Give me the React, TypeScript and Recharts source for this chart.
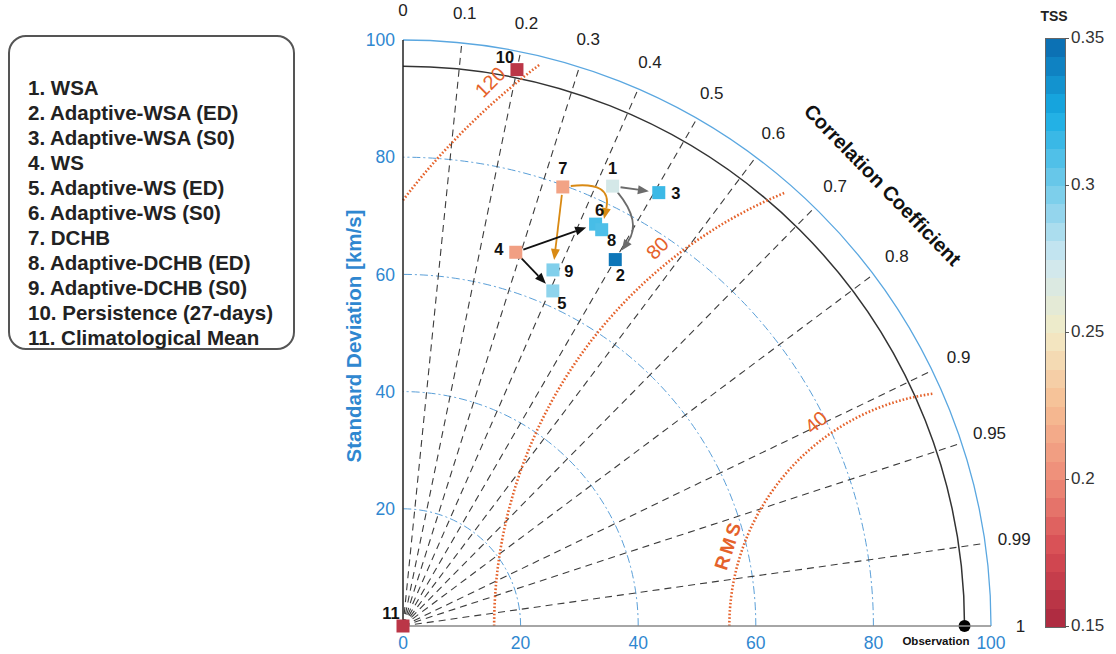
import React from "react";
import * as RC from "recharts";
import { ScatterChart, Scatter, XAxis, YAxis } from "recharts";

const FONT = '"Liberation Sans", Arial, Helvetica, sans-serif';
const BLUE = "#2f87d0";
const ORANGE = "#e5622b";

// models (Taylor statistics)
const modelIds = [1, 2, 3, 4, 5, 6, 7, 8, 9, 10, 11];
const modelNames = [
  "WSA",
  "Adaptive-WSA (ED)",
  "Adaptive-WSA (S0)",
  "WS",
  "Adaptive-WS (ED)",
  "Adaptive-WS (S0)",
  "DCHB",
  "Adaptive-DCHB (ED)",
  "Adaptive-DCHB (S0)",
  "Persistence (27-days)",
  "Climatological Mean",
];
const stdDev = [83.1, 72.2, 85.8, 66.6, 62.6, 76.0, 79.7, 75.6, 65.9, 96.9, 0];
const correlation = [0.429, 0.5, 0.507, 0.288, 0.407, 0.431, 0.341, 0.447, 0.387, 0.2, 0];
const tss = [0.27, 0.345, 0.315, 0.21, 0.292, 0.312, 0.212, 0.31, 0.296, 0.16, 0.16];

const refStd = 95.5;
const stdTicks = [0, 20, 40, 60, 80, 100];
const stdGrid = [20, 40, 60, 80];
const corrTicks = [0, 0.1, 0.2, 0.3, 0.4, 0.5, 0.6, 0.7, 0.8, 0.9, 0.95, 0.99, 1];
const rmsLevels = [40, 80, 120];
const tssTicks = [0.15, 0.2, 0.25, 0.3, 0.35];

// arrows between models
const arrowFrom = [1, 1, 7, 7, 4, 4];
const arrowTo = [3, 2, 8, 9, 6, 5];
const arrowBend = [0, 0.38, 0.7, 0, 0, 0];
const arrowColor = ["#6b6b6b", "#6b6b6b", "#d98a14", "#d98a14", "#111", "#111"];

// label offsets for point numbers (px)
const labelOffset: Record<number, [number, number]> = {
  1: [0, -18], 2: [5, 15], 3: [17, 0], 4: [-17, -3], 5: [9, 12], 6: [4, -14],
  7: [0, -19], 8: [10, 10], 9: [16, 1], 10: [-12, -13], 11: [-12, -13],
};

const cmapStops: [number, string][] = [
  [0.15, "#a9283f"], [0.175, "#d64a52"], [0.2, "#ee8b78"], [0.225, "#f6bd93"],
  [0.25, "#f2ebc6"], [0.275, "#cde7f1"], [0.3, "#72cbea"], [0.325, "#18ade4"], [0.35, "#0a68ad"],
];

function hex(c: string) {
  return [1, 3, 5].map((i) => parseInt(c.slice(i, i + 2), 16));
}
function cmap(v: number) {
  for (let i = 0; i < cmapStops.length - 1; i++) {
    const [a, ca] = cmapStops[i];
    const [b, cb] = cmapStops[i + 1];
    if (v <= b || i === cmapStops.length - 2) {
      const t = Math.max(0, Math.min(1, (v - a) / (b - a)));
      const A = hex(ca), B = hex(cb);
      return `rgb(${A.map((x, k) => Math.round(x + (B[k] - x) * t)).join(",")})`;
    }
  }
  return cmapStops[0][1];
}

const points = modelIds.map((id, i) => {
  const th = Math.acos(correlation[i]);
  return { id, x: stdDev[i] * Math.cos(th), y: stdDev[i] * Math.sin(th), color: cmap(tss[i]) };
});

const AX_MAX = 100;
const RC_ANY: any = RC;

function usePlot() {
  const area = RC_ANY.usePlotArea ? RC_ANY.usePlotArea() : null;
  const a = area && area.width ? area : { x: 403, y: 40, width: 588, height: 586 };
  const kx = a.width / AX_MAX;
  const ky = a.height / AX_MAX;
  const sx = (v: number) => a.x + v * kx;
  const sy = (v: number) => a.y + a.height - v * ky;
  const pol = (r: number, deg: number, cx = 0): [number, number] => {
    const t = (deg * Math.PI) / 180;
    return [sx(cx + r * Math.cos(t)), sy(r * Math.sin(t))];
  };
  return { sx, sy, kx, ky, pol };
}

function TaylorGrid() {
  const { sx, sy, kx, ky, pol } = usePlot();
  const ox = sx(0), oy = sy(0);
  const rMax = 98.5;
  const rmsLabelAngle = [126, 129, 131];
  const rmsLabelRot = [-40, -45, -45];
  const titleY = 336;
  return (
    <g style={{ fontFamily: FONT }}>
      {stdGrid.map((r) => (
        <path key={r} d={`M${sx(r)},${oy} A${r * kx},${r * ky} 0 0 0 ${ox},${sy(r)}`}
          fill="none" stroke="#5a9fd8" strokeWidth={1} strokeDasharray="8 3 2 3" />
      ))}
      {corrTicks.filter((c) => c > 0 && c < 1).map((c) => {
        const [x, y] = pol(AX_MAX, (Math.acos(c) * 180) / Math.PI);
        return <line key={c} x1={ox} y1={oy} x2={x} y2={y} stroke="#3c3c3c" strokeWidth={1.1} strokeDasharray="7 5" />;
      })}
      <path d={`M${sx(refStd)},${oy} A${refStd * kx},${refStd * ky} 0 0 0 ${ox},${sy(refStd)}`}
        fill="none" stroke="#333" strokeWidth={1.5} />
      <path d={`M${sx(AX_MAX)},${oy} A${AX_MAX * kx},${AX_MAX * ky} 0 0 0 ${ox},${sy(AX_MAX)}`}
        fill="none" stroke="#5aa7e0" strokeWidth={1.3} />
      {rmsLevels.map((r, i) => {
        const c = refStd;
        const start = c - r >= 0 ? 180 : (Math.acos(-c / r) * 180) / Math.PI;
        const end = (Math.acos((rMax * rMax - c * c - r * r) / (2 * c * r)) * 180) / Math.PI;
        const [x1, y1] = pol(r, start, c);
        const [x2, y2] = pol(r, end, c);
        const [lx, ly] = pol(r + 3, rmsLabelAngle[i], c);
        return (
          <g key={r}>
            <path d={`M${x1},${y1} A${r * kx},${r * ky} 0 0 1 ${x2},${y2}`} fill="none"
              stroke={ORANGE} strokeWidth={2.6} strokeDasharray="1.6 2" />
            <text x={lx} y={ly} fill={ORANGE} fontSize={20} textAnchor="middle" dominantBaseline="central"
              transform={`rotate(${rmsLabelRot[i]} ${lx} ${ly})`}>{r}</text>
          </g>
        );
      })}
      {(() => {
        const [x, y] = pol(42.5, 161, refStd);
        return (
          <text x={x} y={y} fill={ORANGE} fontSize={19} fontWeight="bold" letterSpacing={3}
            textAnchor="middle" dominantBaseline="central" transform={`rotate(-72 ${x} ${y})`}>RMS</text>
        );
      })()}
      {corrTicks.map((c) => {
        const [x, y] = pol(105, (Math.acos(c) * 180) / Math.PI);
        return <text key={c} x={x} y={y} fontSize={17} fill="#222" textAnchor="middle" dominantBaseline="central">{c}</text>;
      })}
      {(() => {
        const [x, y] = pol(111, 42.7);
        return (
          <text x={x} y={y} fontSize={20} fontWeight="bold" fill="#111" textAnchor="middle" dominantBaseline="central"
            transform={`rotate(46 ${x} ${y})`}>Correlation Coefficient</text>
        );
      })()}
      <text x={353} y={titleY} fontSize={20.5} fontWeight="bold" fill={BLUE}
        textAnchor="middle" dominantBaseline="central" transform={`rotate(-90 353 ${titleY})`}>
        Standard Deviation [km/s]
      </text>
      <circle cx={sx(refStd)} cy={oy} r={6} fill="#000" />
      <text x={sx(refStd) + 5} y={oy + 19} fontSize={11.5} fontWeight="bold" fill="#111" textAnchor="end">Observation</text>
    </g>
  );
}

function ArrowLayer() {
  const { sx, sy } = usePlot();
  return (
    <g>
      {arrowFrom.map((f, i) => {
        const a = points[f - 1], b = points[arrowTo[i] - 1];
        const ax = sx(a.x), ay = sy(a.y), bx = sx(b.x), by = sy(b.y);
        const dx = bx - ax, dy = by - ay, len = Math.hypot(dx, dy);
        const ux = dx / len, uy = dy / len;
        const bend = arrowBend[i];
        const cx = (ax + bx) / 2 + uy * bend * len, cy = (ay + by) / 2 - ux * bend * len;
        let sx0 = ax + ux * 8, sy0 = ay + uy * 8;
        let ex = bx - ux * 10, ey = by - uy * 10;
        if (bend) {
          const d1 = Math.hypot(cx - ax, cy - ay), d2 = Math.hypot(bx - cx, by - cy);
          sx0 = ax + ((cx - ax) / d1) * 8; sy0 = ay + ((cy - ay) / d1) * 8;
          ex = bx - ((bx - cx) / d2) * 11; ey = by - ((by - cy) / d2) * 11;
        }
        const tx = bend ? ex - cx : ex - sx0, ty = bend ? ey - cy : ey - sy0;
        const tl = Math.hypot(tx, ty);
        const hx = tx / tl, hy = ty / tl;
        const hl = 11, hw = 4.5;
        const bxh = ex - hx * hl, byh = ey - hy * hl;
        const head = `${ex},${ey} ${bxh - hy * hw},${byh + hx * hw} ${bxh + hy * hw},${byh - hx * hw}`;
        const path = bend
          ? `M${sx0},${sy0} Q${cx},${cy} ${bxh},${byh}`
          : `M${sx0},${sy0} L${bxh},${byh}`;
        return (
          <g key={i}>
            <path d={path} fill="none" stroke={arrowColor[i]} strokeWidth={1.8} />
            <polygon points={head} fill={arrowColor[i]} />
          </g>
        );
      })}
    </g>
  );
}

function ModelSquare(props: any) {
  const { cx, cy, payload } = props;
  const off = labelOffset[payload.id] || [0, -16];
  return (
    <g>
      <rect x={cx - 6.5} y={cy - 6.5} width={13} height={13} fill={payload.color} />
      <text x={cx + off[0]} y={cy + off[1]} fontSize={16.5} fontWeight="bold" fill="#111" fontFamily={FONT}
        textAnchor="middle" dominantBaseline="central">{payload.id}</text>
    </g>
  );
}

const bands = Array.from({ length: 32 }, (_, i) => 0.15 + ((i + 0.5) * 0.2) / 32);

export default function App() {
  return (
    <div style={{ position: "absolute", left: 0, top: 0, width: 1116, height: 654, background: "#fff", fontFamily: FONT }}>
      <ScatterChart width={1116} height={654} margin={{ top: 40, right: 125, bottom: 3, left: 343 }}>
        <XAxis type="number" dataKey="x" domain={[0, AX_MAX]} ticks={stdTicks} height={25}
          axisLine={{ stroke: "#888", strokeWidth: 1.5 }} tickLine={false}
          tick={{ fill: BLUE, fontSize: 17.5, fontFamily: FONT, dy: 3 }} />
        <YAxis type="number" dataKey="y" domain={[0, AX_MAX]} ticks={stdTicks.slice(1)} width={60}
          axisLine={{ stroke: "#222", strokeWidth: 1.5 }} tickLine={false}
          tick={{ fill: BLUE, fontSize: 17.5, fontFamily: FONT }} />
        <TaylorGrid />
        <Scatter data={points} isAnimationActive={false} shape={<ModelSquare />} />
        <ArrowLayer />
      </ScatterChart>

      <div style={{ position: "absolute", left: 8, top: 35, width: 283, height: 311, border: "2px solid #555",
        borderRadius: 18, boxSizing: "content-box" }}>
        <div style={{ position: "absolute", left: 18, top: 38, fontSize: 20.5, fontWeight: "bold", color: "#222", lineHeight: "25px" }}>
          {modelNames.map((n, i) => (
            <div key={n}>{modelIds[i]}. {n}</div>
          ))}
        </div>
      </div>

      <div style={{ position: "absolute", left: 1037, top: 8, width: 34, textAlign: "center", fontSize: 14, fontWeight: "bold", color: "#222" }}>TSS</div>
      <div style={{ position: "absolute", left: 1045, top: 38, width: 19, height: 588, border: "1px solid #666",
        display: "flex", flexDirection: "column-reverse" }}>
        {bands.map((v, i) => (
          <div key={i} style={{ flex: 1, background: cmap(v) }} />
        ))}
      </div>
      {tssTicks.map((t) => {
        const y = 38 + 588 * (1 - (t - 0.15) / 0.2);
        return (
          <React.Fragment key={t}>
            <div style={{ position: "absolute", left: 1065, top: y, width: 4, height: 1, background: "#555" }} />
            <div style={{ position: "absolute", left: 1071, top: y - 10, fontSize: 17, color: "#333" }}>{t}</div>
          </React.Fragment>
        );
      })}
    </div>
  );
}
